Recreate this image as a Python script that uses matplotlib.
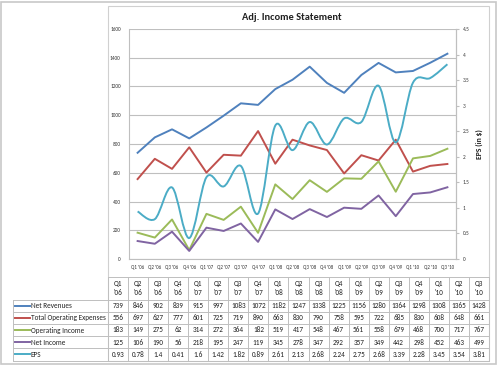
import numpy as np
import matplotlib.pyplot as plt
from matplotlib import font_manager
from matplotlib.path import Path
from matplotlib.patches import PathPatch, Rectangle

quarters = ["Q1 '06", "Q2 '06", "Q3 '06", "Q4 '06", "Q1 '07", "Q2 '07", "Q3 '07",
            "Q4 '07", "Q1 '08", "Q2 '08", "Q3 '08", "Q4 '08", "Q1 '09", "Q2 '09",
            "Q3 '09", "Q4 '09", "Q1 '10", "Q2 '10", "Q3 '10"]
net_revenues = [739, 846, 902, 839, 915, 997, 1083, 1072, 1182, 1247, 1338, 1225,
                1156, 1280, 1364, 1298, 1308, 1365, 1428]
operating_expenses = [556, 697, 627, 777, 601, 725, 719, 890, 663, 830, 790, 758,
                      595, 722, 685, 830, 608, 648, 661]
operating_income = [183, 149, 275, 62, 314, 272, 364, 182, 519, 417, 548, 467,
                    561, 558, 679, 468, 700, 717, 767]
net_income = [125, 106, 190, 56, 218, 195, 247, 119, 345, 278, 347, 292,
              357, 349, 442, 298, 452, 463, 499]
eps = [0.93, 0.78, 1.4, 0.41, 1.6, 1.42, 1.82, 0.89, 2.61, 2.13, 2.68, 2.24,
       2.75, 2.68, 3.39, 2.28, 3.45, 3.54, 3.81]

series_names = ["Net Revenues", "Total Operating Expenses", "Operating Income",
                "Net Income", "EPS"]
colors = ["#4F81BD", "#C0504D", "#9BBB59", "#8064A2", "#4BACC6"]

names = {f.name for f in font_manager.fontManager.ttflist}
font = next((f for f in ["Carlito", "Liberation Sans Narrow", "Lato"] if f in names),
            "DejaVu Sans")
plt.rcParams["font.family"] = [font, "DejaVu Sans"]

W, H = 499, 366
fig = plt.figure(figsize=(W / 100, H / 100), dpi=100)


def frac(x0, y0, x1, y1):
    # pixel box (top-left origin) -> figure fraction rect
    return [x0 / W, 1 - y1 / H, (x1 - x0) / W, (y1 - y0) / H]


def smooth_path(xs, ys):
    pts = np.column_stack([xs, ys]).astype(float)
    n = len(pts)
    verts, codes = [pts[0]], [Path.MOVETO]
    for i in range(n - 1):
        p0 = pts[max(i - 1, 0)]
        p1 = pts[i]
        p2 = pts[i + 1]
        p3 = pts[min(i + 2, n - 1)]
        verts += [p1 + (p2 - p0) / 6, p2 - (p3 - p1) / 6, p2]
        codes += [Path.CURVE4] * 3
    return Path(verts, codes)


# background overlay for frames and the data table
bg = fig.add_axes([0, 0, 1, 1])
bg.set_xlim(0, W)
bg.set_ylim(H, 0)
bg.axis("off")
grid_c = "#BFBFBF"
bg.add_patch(Rectangle((1.5, 1.5), 495, 362, fill=False, ec="#C8C8C8", lw=1.2))
bg.add_patch(Rectangle((108, 6), 381, 355, fill=False, ec="#D0D0D0", lw=0.8))

# main chart
ax = fig.add_axes(frac(129, 29, 456, 259))
ax.set_facecolor("none")
x = np.arange(len(quarters))
for vals, c in zip([net_revenues, operating_expenses, operating_income, net_income], colors):
    ax.plot(x, vals, color=c, lw=1.4, zorder=3)
ax.set_xlim(-0.5, len(quarters) - 0.5)
ax.set_ylim(0, 1600)
ax.set_yticks(range(0, 1601, 200))
ax.set_xticks(x)
ax.set_xticklabels(quarters, fontsize=3.6, color="#333333")
ax.tick_params(axis="both", length=0, pad=4)
ax.tick_params(axis="y", labelsize=3.8, labelcolor="#333333", pad=6)
ax.grid(axis="y", color=grid_c, lw=0.8)
ax.set_axisbelow(True)
for side in ["top"]:
    ax.spines[side].set_visible(False)
for side in ["left", "right", "bottom"]:
    ax.spines[side].set_color(grid_c)
    ax.spines[side].set_linewidth(0.8)

ax2 = ax.twinx()
ax2.set_ylim(0, 4.5)
ax2.set_yticks(np.arange(0, 4.51, 0.5))
ax2.set_yticklabels(["0", "0.5", "1", "1.5", "2", "2.5", "3", "3.5", "4", "4.5"])
ax2.tick_params(axis="y", labelsize=3.8, labelcolor="#333333", length=2,
                color=grid_c, pad=3)
for side in ["top", "left", "bottom"]:
    ax2.spines[side].set_visible(False)
ax2.spines["right"].set_color(grid_c)
ax2.spines["right"].set_linewidth(0.8)
ax2.add_patch(PathPatch(smooth_path(x, eps), fill=False, ec=colors[4], lw=1.4, zorder=3))

fig.text(292 / W, 1 - 17 / H, "Adj. Income Statement", ha="center", va="center",
         fontsize=7.5, fontweight="bold", color="#222222")
fig.text(479 / W, 1 - 144 / H, "EPS (in $)", rotation=90, ha="center", va="center",
         fontsize=5.5, fontweight="bold", color="#222222")

# data table
t_left, t_label, t_right = 13, 108, 489
t_top, t_head, row_h = 277, 299.5, 12.2
ncol = len(quarters)
col_w = (t_right - t_label) / ncol
rows = [net_revenues, operating_expenses, operating_income, net_income, eps]
t_bot = t_head + row_h * len(rows)
lc = dict(color=grid_c, lw=0.7)
bg.plot([t_label, t_right], [t_top, t_top], **lc)
for j in range(ncol + 1):
    xx = t_label + j * col_w
    bg.plot([xx, xx], [t_top, t_bot], **lc)
bg.plot([t_left, t_left], [t_head, t_bot], **lc)
for i in range(len(rows) + 1):
    yy = t_head + i * row_h
    bg.plot([t_left, t_right], [yy, yy], **lc)

for j, q in enumerate(quarters):
    cx = t_label + (j + 0.5) * col_w
    bg.text(cx, (t_top + t_head) / 2, q.replace(" ", "\n"), ha="center", va="center",
            fontsize=5.2, color="#222222", linespacing=1.3)
for i, (vals, name, c) in enumerate(zip(rows, series_names, colors)):
    cy = t_head + (i + 0.5) * row_h
    bg.plot([15, 30], [cy, cy], color=c, lw=1.4)
    bg.text(31, cy, name, ha="left", va="center", fontsize=5.2, color="#222222")
    for j, v in enumerate(vals):
        cx = t_label + (j + 0.5) * col_w
        bg.text(cx, cy, f"{v:g}", ha="center", va="center", fontsize=5.2, color="#222222")

fig.savefig("out.png", dpi=100)
